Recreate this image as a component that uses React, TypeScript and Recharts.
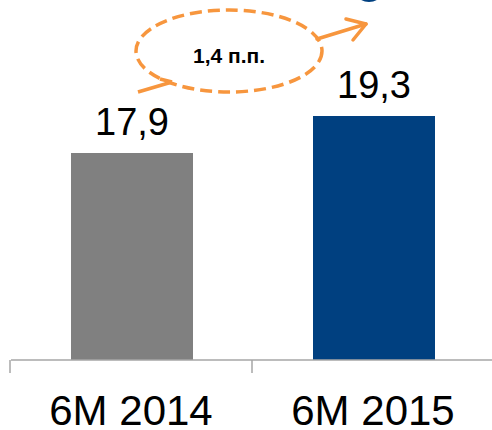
import { BarChart, Bar, XAxis, YAxis, Cell, LabelList } from 'recharts'

const periods = ['6M 2014', '6M 2015']
const values = [17.9, 19.3]
const barColors = ['#808080', '#004080']
const deltaLabel = '1,4 п.п.'

const data = periods.map((p, i) => ({ period: p, value: values[i] }))

const W = 492
const H = 430
const LEFT = 11
const RIGHT = -3
const BAND = (W - LEFT - RIGHT) / periods.length
const FONT = '"Liberation Sans", Arial, sans-serif'
const ORANGE = '#F7963E'

function PeriodTick(props: any) {
  const { x, y, payload } = props
  const axisY = y - 8
  return (
    <g>
      <line x1={x - BAND / 2 - 1} y1={axisY} x2={x - BAND / 2 - 1} y2={axisY + 13} stroke="#A6A6A6" strokeWidth={1.5} />
      <text x={x - 1} y={axisY + 65} textAnchor="middle" fontSize={42} fill="#000" fontFamily={FONT}>
        {payload.value}
      </text>
    </g>
  )
}

function ValueLabel(props: any) {
  const { x, y, width, value } = props
  return (
    <text x={x + width / 2} y={y - 18} textAnchor="middle" fontSize={38} fill="#000" fontFamily={FONT}>
      {String(value).replace('.', ',')}
    </text>
  )
}

export default function App() {
  return (
    <div style={{ position: 'absolute', left: 0, top: 0, width: W, height: H, background: '#fff' }}>
      <BarChart width={W} height={H} data={data} margin={{ top: 0, right: RIGHT, left: LEFT, bottom: 0 }}>
        <YAxis hide domain={[10.07, 23.69]} allowDataOverflow />
        <XAxis
          dataKey="period"
          height={70}
          axisLine={{ stroke: '#A6A6A6', strokeWidth: 1.5 }}
          tickLine={false}
          tick={<PeriodTick />}
          interval={0}
        />
        <Bar dataKey="value" barSize={122} isAnimationActive={false}>
          {data.map((d, i) => (
            <Cell key={d.period} fill={barColors[i]} />
          ))}
          <LabelList dataKey="value" content={<ValueLabel />} />
        </Bar>
      </BarChart>
      <svg width={W} height={H} style={{ position: 'absolute', left: 0, top: 0, pointerEvents: 'none' }}>
        <circle cx={369} cy={-14} r={16} fill="#004080" />
        <line x1={138} y1={92} x2={172} y2={82} stroke={ORANGE} strokeWidth={3.5} />
        <line x1={160} y1={79} x2={172} y2={82} stroke={ORANGE} strokeWidth={3.5} />
        <ellipse cx={229} cy={51} rx={93} ry={41} fill="none" stroke={ORANGE} strokeWidth={3.5} strokeDasharray="12 6" />
        <line x1={317} y1={39} x2={366} y2={24} stroke={ORANGE} strokeWidth={3.5} strokeLinecap="round" />
        <polyline points="346,19 366,24 353,40" fill="none" stroke={ORANGE} strokeWidth={3.5} strokeLinecap="round" strokeLinejoin="round" />
        <text x={229} y={63} textAnchor="middle" fontSize={21} fontWeight="bold" fill="#000" fontFamily={FONT}>
          {deltaLabel}
        </text>
      </svg>
    </div>
  )
}
